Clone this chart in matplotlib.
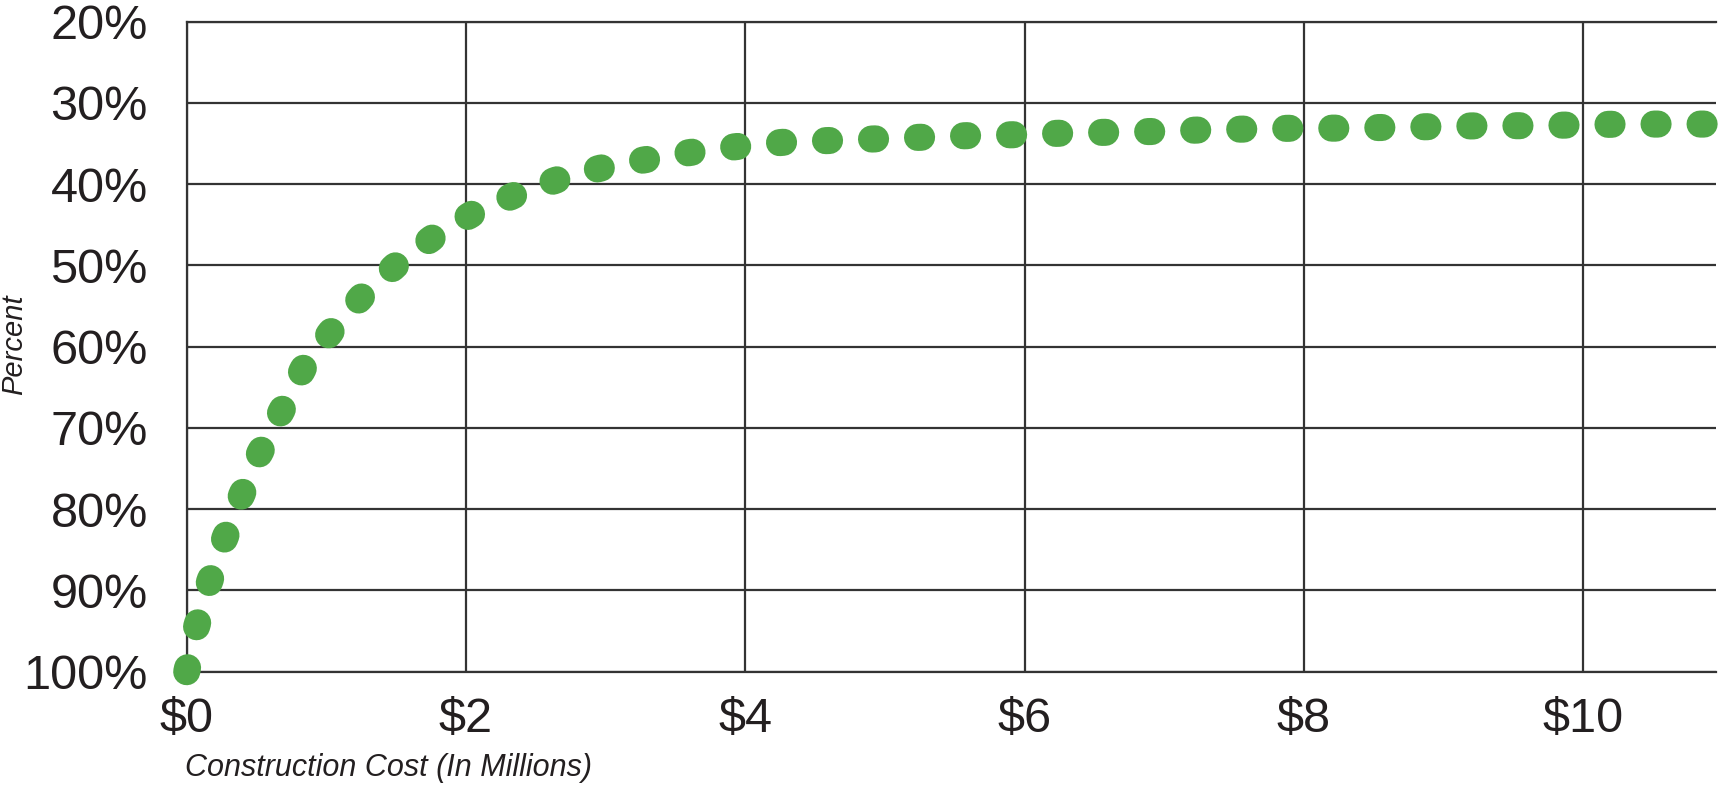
import matplotlib
matplotlib.use('Agg')
import matplotlib.pyplot as plt
from matplotlib.ticker import FuncFormatter

# values (cost in $M, percent)
cost = [0, 0.07, 0.16, 0.27, 0.39, 0.52, 0.67, 0.84, 1.04, 1.25,
        1.49, 1.76, 2.04, 2.34, 2.66, 2.99, 3.31, 3.64, 3.97, 4.30,
        4.64, 4.97, 5.30, 5.63, 5.96, 6.30, 6.63, 6.96, 7.30, 7.63,
        7.96, 8.29, 8.63, 8.96, 9.29, 9.63, 9.96, 10.29, 10.63, 10.95]
percent = [100, 94.5, 89.1, 83.7, 78.4, 73.2, 68.2, 62.5, 58.0, 53.9,
           50.1, 46.6, 43.7, 41.4, 39.4, 37.9, 36.9, 36.0, 35.3, 34.8,
           34.6, 34.4, 34.2, 34.0, 33.9, 33.7, 33.6, 33.5, 33.3, 33.2,
           33.1, 33.1, 33.0, 32.9, 32.8, 32.8, 32.7, 32.6, 32.6, 32.6]

x_ticks = [0, 2, 4, 6, 8, 10]
y_ticks = [20, 30, 40, 50, 60, 70, 80, 90, 100]

GREEN = '#50a848'
GRID = '#333333'
TEXT = '#231f20'

plt.rcParams['font.family'] = ['Liberation Sans', 'DejaVu Sans']

W, H = 1734, 786
fig = plt.figure(figsize=(W / 100, H / 100), dpi=100)
ax = fig.add_axes([186.7 / W, 1 - 671.7 / H, (1716 - 186.7) / W, (671.7 - 21.7) / H])

ax.plot(cost, percent, color=GREEN, lw=19.5, linestyle=(0, (0.15, 1.55)),
        dash_capstyle='round', solid_capstyle='round', clip_on=False, zorder=3)

ax.set_xlim(0, 10.95)
ax.set_ylim(100, 20)
ax.set_xticks(x_ticks)
ax.set_yticks(y_ticks)
ax.xaxis.set_major_formatter(FuncFormatter(lambda v, p: f'${v:.0f}'))
ax.yaxis.set_major_formatter(FuncFormatter(lambda v, p: f'{v:.0f}%'))
ax.tick_params(axis='both', length=0, labelsize=35, labelcolor=TEXT)
ax.tick_params(axis='y', pad=28)
ax.tick_params(axis='x', pad=18)

ax.grid(True, color=GRID, lw=1.6)
ax.set_axisbelow(True)
for side in ['left', 'top', 'bottom']:
    ax.spines[side].set_color(GRID)
    ax.spines[side].set_linewidth(1.6)
ax.spines['right'].set_visible(False)

fig.text(185 / W, 1 - 768 / H, 'Construction Cost (In Millions)', fontsize=22,
         style='italic', color=TEXT, ha='left', va='center')
fig.text(14 / W, 1 - 345 / H, 'Percent', fontsize=21, style='italic',
         color=TEXT, rotation=90, ha='center', va='center')

fig.savefig('out.png', dpi=100)
